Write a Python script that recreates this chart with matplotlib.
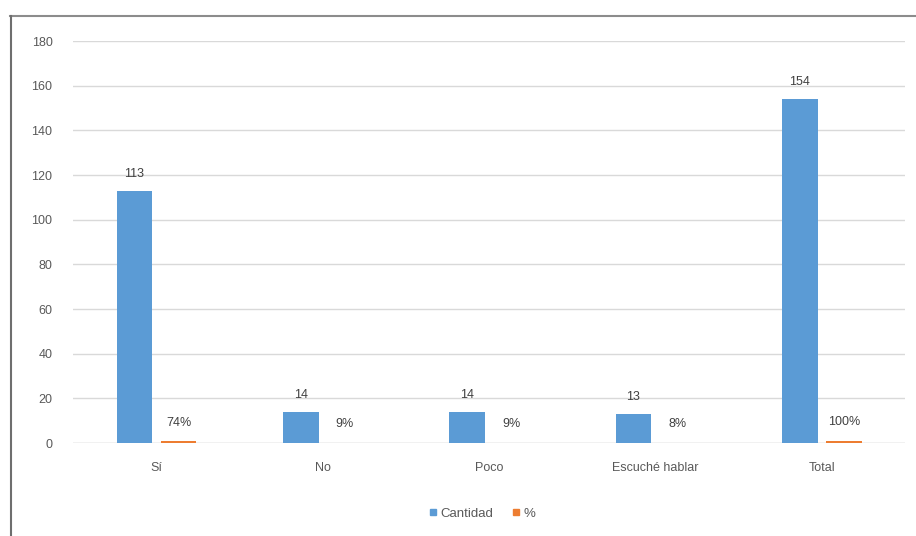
import matplotlib
matplotlib.use("Agg")
import matplotlib.pyplot as plt
import numpy as np
from matplotlib.lines import Line2D

categories = ["Sí", "No", "Poco", "Escuché hablar", "Total"]
cantidad = [113, 14, 14, 13, 154]
porcentaje = [0.74, 0.09, 0.09, 0.08, 1.00]
pct_labels = ["74%", "9%", "9%", "8%", "100%"]
yticks = [0, 20, 40, 60, 80, 100, 120, 140, 160, 180]

blue = "#5B9BD5"
orange = "#ED7D31"
txt = "#595959"

plt.rcParams["font.family"] = ["Liberation Sans", "DejaVu Sans"]

fig = plt.figure(figsize=(9.16, 5.36), dpi=100)
ax = fig.add_axes([0.08, 0.1735, 0.908, 0.75])

x = np.arange(len(categories))
w = 0.215
gap = 0.025
b1 = ax.bar(x - w / 2 - gap, cantidad, w, color=blue, label="Cantidad", zorder=3)
b2 = ax.bar(x + w / 2 + gap, porcentaje, w, color=orange, label="%", zorder=3)

for rect, v in zip(b1, cantidad):
    ax.annotate(str(v), (rect.get_x() + rect.get_width() / 2, rect.get_height()),
                xytext=(0, 8), textcoords="offset points", ha="center", va="bottom",
                fontsize=9, color="#404040")
for rect, s in zip(b2, pct_labels):
    ax.annotate(s, (rect.get_x() + rect.get_width() / 2, rect.get_height()),
                xytext=(0, 9), textcoords="offset points", ha="center", va="bottom",
                fontsize=9, color="#404040")

ax.set_xlim(-0.5, 4.5)
ax.set_ylim(0, 180)
ax.set_yticks(yticks)
ax.set_xticks(x)
ax.set_xticklabels(categories)
ax.tick_params(axis="both", length=0, labelsize=9, colors=txt)
ax.tick_params(axis="x", pad=14)
ax.tick_params(axis="y", pad=15)
ax.yaxis.grid(True, color="#d9d9d9", linewidth=1, zorder=0)
for s in ax.spines.values():
    s.set_visible(False)
ax.axhline(0, color="#d9d9d9", linewidth=1, zorder=2)

handles = [Line2D([], [], marker="s", linestyle="", color=blue, markersize=5),
           Line2D([], [], marker="s", linestyle="", color=orange, markersize=5)]
fig.legend(handles, ["Cantidad", "%"], loc="center", bbox_to_anchor=(0.525, 0.042),
           ncol=2, frameon=False, fontsize=9.5, labelcolor=txt,
           handletextpad=0.1, columnspacing=1.2, handlelength=1)

# chart border (top and left edges visible in the reference)
fig.add_artist(Line2D([10 / 916, 1.0], [1 - 16 / 536, 1 - 16 / 536],
                      transform=fig.transFigure, color="#8c8c8c", linewidth=1.5))
fig.add_artist(Line2D([11 / 916, 11 / 916], [0, 1 - 16 / 536],
                      transform=fig.transFigure, color="#6e6e6e", linewidth=1.5))

fig.savefig("out.png", dpi=100)
